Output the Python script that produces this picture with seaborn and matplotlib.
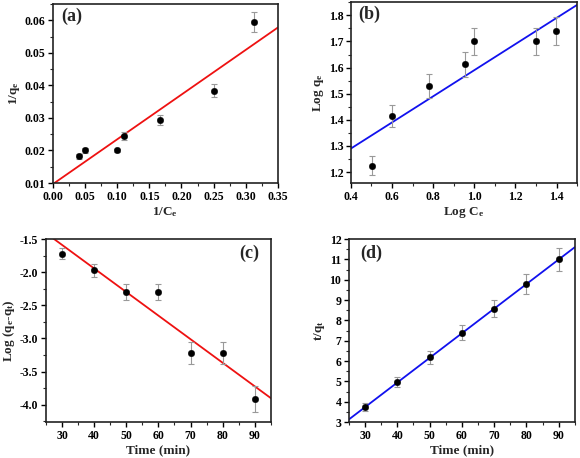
import matplotlib
matplotlib.use("Agg")
import matplotlib.pyplot as plt
import seaborn as sns
import numpy as np
import pandas as pd
from matplotlib.ticker import AutoMinorLocator, MultipleLocator, FuncFormatter

# ---------------- data ----------------
a_x = [0.04, 0.05, 0.10, 0.111, 0.167, 0.25, 0.3125]
a_y = [0.0182, 0.0200, 0.0200, 0.0244, 0.0294, 0.0384, 0.0595]
a_err = [0.0008, 0.0008, 0.0006, 0.0012, 0.0016, 0.0020, 0.0030]
a_fit_x = [0.0, 0.35]
a_fit_y = [0.0097, 0.0578]

b_x = [0.505, 0.602, 0.778, 0.954, 1.0, 1.301, 1.398]
b_y = [1.225, 1.415, 1.530, 1.612, 1.700, 1.700, 1.740]
b_err = [0.037, 0.043, 0.047, 0.048, 0.052, 0.052, 0.052]
b_fit_x = [0.4, 1.5]
b_fit_y = [1.29, 1.84]

c_x = [30, 40, 50, 60, 70, 80, 90]
c_y = [-1.72, -1.97, -2.30, -2.30, -3.22, -3.22, -3.91]
c_err = [0.08, 0.10, 0.12, 0.12, 0.16, 0.16, 0.20]
c_fit_x = [25, 95]
c_fit_y = [-1.41, -3.90]

d_x = [30, 40, 50, 60, 70, 80, 90]
d_y = [3.75, 4.97, 6.18, 7.40, 8.58, 9.80, 11.00]
d_err = [0.20, 0.25, 0.32, 0.38, 0.43, 0.50, 0.55]
d_fit_x = [25, 95]
d_fit_y = [3.13, 11.6]

# ---------------- style ----------------
sns.set_theme(style="ticks")
plt.rcParams['font.family'] = ['Liberation Serif', 'DejaVu Serif']
plt.rcParams['font.weight'] = 'bold'
plt.rcParams['mathtext.fontset'] = 'custom'
plt.rcParams['mathtext.rm'] = 'Liberation Serif:bold'
plt.rcParams['mathtext.it'] = 'Liberation Serif:bold'
plt.rcParams['mathtext.bf'] = 'Liberation Serif:bold'
plt.rcParams['mathtext.default'] = 'bf'

fig = plt.figure(figsize=(5.8, 4.58), dpi=100)
positions = {
    'a': [0.0914, 0.6004, 0.479 - 0.0914, 0.991 - 0.6004],
    'b': [0.605, 0.6004, 0.995 - 0.605, 0.9956 - 0.6004],
    'c': [0.0793, 0.0786, 0.467 - 0.0793, 0.478 - 0.0786],
    'd': [0.6017, 0.0786, 0.991 - 0.6017, 0.478 - 0.0786],
}

panels = [
    ('a', a_x, a_y, a_err, a_fit_x, a_fit_y, '#ee1111', (0, 0.35), (0.01, 0.065), 0.05, 0.01,
     r'1/C$_e$', r'1/q$_e$', (0.035, 0.93), '{:.2f}', '{:.2f}'),
    ('b', b_x, b_y, b_err, b_fit_x, b_fit_y, '#1111ee', (0.4, 1.5), (1.158, 1.851), 0.2, 0.1,
     r'Log C$_e$', r'Log q$_e$', (0.031, 0.93), '{:.1f}', '{:.1f}'),
    ('c', c_x, c_y, c_err, c_fit_x, c_fit_y, '#ee1111', (25, 95), (-4.26, -1.5), 10, 0.5,
     'Time (min)', r'Log (q$_e$-q$_t$)', (0.86, 0.92), '{:.0f}', '{:.1f}'),
    ('d', d_x, d_y, d_err, d_fit_x, d_fit_y, '#1111ee', (25, 95), (3, 12), 10, 1,
     'Time (min)', r't/q$_t$', (0.049, 0.92), '{:.0f}', '{:.0f}'),
]

for (name, x, y, err, fx, fy, lc, xlim, ylim, xstep, ystep, xl, yl, lblpos, xfmt, yfmt) in panels:
    ax = fig.add_axes(positions[name])
    df = pd.DataFrame({'x': x, 'y': y})
    fit = pd.DataFrame({'x': fx, 'y': fy})
    sns.lineplot(data=fit, x='x', y='y', ax=ax, color=lc, lw=1.3, zorder=2)
    ax.errorbar(x, y, yerr=err, fmt='none', ecolor='#999999', elinewidth=0.8,
                capsize=2, capthick=0.8, zorder=3)
    sns.scatterplot(data=df, x='x', y='y', ax=ax, color='black', s=22,
                    edgecolor='black', linewidth=0.3, zorder=4)
    ax.set_xlim(*xlim)
    ax.set_ylim(*ylim)
    ax.xaxis.set_major_locator(MultipleLocator(xstep))
    ax.yaxis.set_major_locator(MultipleLocator(ystep))
    ax.xaxis.set_minor_locator(AutoMinorLocator(2))
    ax.yaxis.set_minor_locator(AutoMinorLocator(2))
    ax.xaxis.set_major_formatter(FuncFormatter(lambda v, p, f=xfmt: f.format(v)))
    ax.yaxis.set_major_formatter(FuncFormatter(lambda v, p, f=yfmt: f.format(v)))
    ax.tick_params(axis='both', which='major', direction='out', length=3.5, width=1,
                   labelsize=8.5, pad=2, colors='black')
    ax.tick_params(axis='both', which='minor', direction='out', length=2, width=0.8)
    for lab in ax.get_xticklabels() + ax.get_yticklabels():
        lab.set_fontweight('bold')
    for sp in ax.spines.values():
        sp.set_visible(True)
        sp.set_linewidth(1.2)
        sp.set_color('#222222')
    ax.set_xlabel(xl, fontsize=9.5, fontweight='bold', labelpad=2)
    ax.set_ylabel(yl, fontsize=9.5, fontweight='bold', labelpad=2)
    ax.text(lblpos[0], lblpos[1], f'({name})', transform=ax.transAxes,
            fontsize=13, fontweight='bold', va='center', ha='left')

fig.savefig('out.png', dpi=100)
